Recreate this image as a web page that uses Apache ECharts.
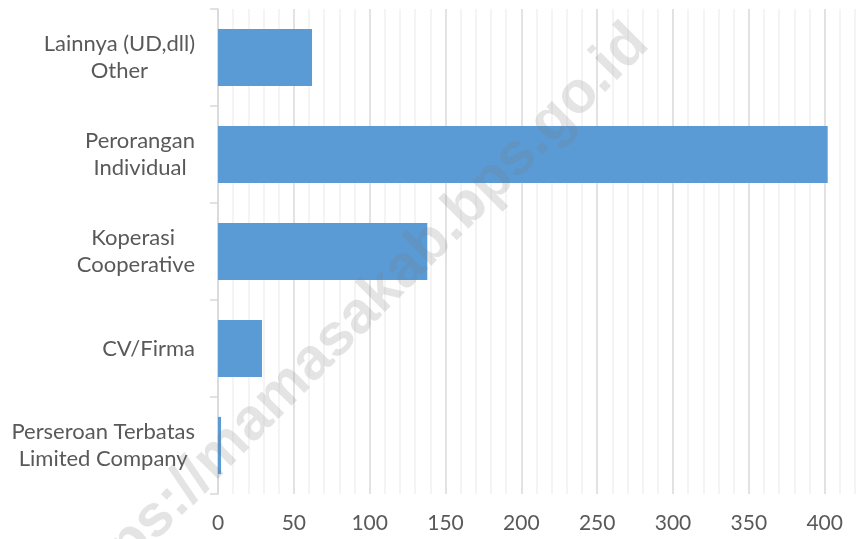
<!DOCTYPE html>
<html><head><meta charset="utf-8">
<script src="https://cdn.jsdelivr.net/npm/echarts@6/dist/echarts.min.js"></script>
<style>html,body{margin:0;padding:0;background:#fff}#c{width:858px;height:539px}</style>
</head><body><div id="c"></div>
<script>
const categories = ["Lainnya (UD,dll)\nOther", "Perorangan\nIndividual", "Koperasi \nCooperative", "CV/Firma", "Perseroan Terbatas\nLimited Company"];
const values = [62, 402, 138, 29, 2];
const xTicks = [0, 50, 100, 150, 200, 250, 300, 350, 400];
const watermark = "https://mamasakab.bps.go.id";

const FONT = 'Lato, "Open Sans", sans-serif';
const chart = echarts.init(document.getElementById('c'), null, {renderer: 'canvas'});
chart.setOption({
  animation: false,
  grid: {left: 218, right: 2, top: 9, bottom: 45, containLabel: false},
  xAxis: {
    type: 'value', min: 0, max: 420, interval: 10,
    axisLine: {show: false}, axisTick: {show: false},
    axisLabel: {
      color: '#595959', fontFamily: FONT, fontSize: 21, margin: 19,
      formatter: v => xTicks.indexOf(v) >= 0 ? String(v) : ''
    },
    splitLine: {show: true, lineStyle: {width: 1.5, color: ['#d9d9d9', '#f0f0f0', '#f0f0f0', '#f0f0f0', '#f0f0f0']}}
  },
  yAxis: {
    type: 'category', inverse: true, data: categories,
    axisLine: {show: true, lineStyle: {color: '#d9d9d9', width: 1.5}},
    axisTick: {show: true, length: 8, lineStyle: {color: '#d9d9d9', width: 1.5}},
    axisLabel: {
      color: '#595959', fontFamily: FONT, fontSize: 22, margin: 23, align: 'right', lineHeight: 27,
      formatter: v => v.split('\n').map(s => '{c|' + s + '}').join('\n'),
      rich: {c: {align: 'center', color: '#595959', fontFamily: FONT, fontSize: 22, lineHeight: 27}}
    }
  },
  series: [{
    type: 'bar', data: values, barCategoryGap: '41%',
    itemStyle: {color: '#5b9bd5'}
  }],
  graphic: [{
    type: 'text', z: 100, x: 352, y: 322, rotation: Math.PI / 4,
    style: {
      text: watermark, font: 'bold 59px "Liberation Sans", Arial, sans-serif',
      fill: 'rgba(120,120,120,0.2)', textAlign: 'center', textVerticalAlign: 'middle'
    }
  }]
});
</script></body></html>
